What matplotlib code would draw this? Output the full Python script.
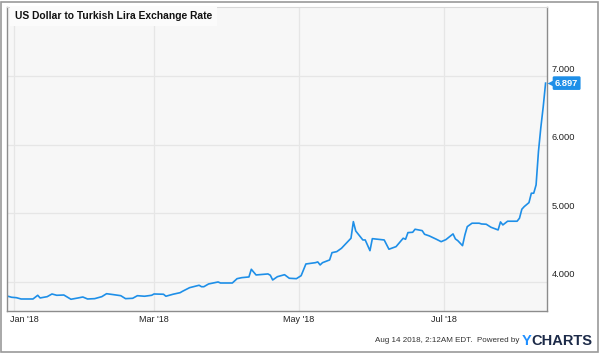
import matplotlib
matplotlib.use("Agg")
import matplotlib.pyplot as plt
from matplotlib.patches import Rectangle
from matplotlib.transforms import ScaledTranslation
import pandas as pd

plt.rcParams['font.family'] = ['Liberation Sans', 'DejaVu Sans']

# USD/TRY readings
dates = ["2017-12-29", "2017-12-31", "2018-01-02", "2018-01-04", "2018-01-09", "2018-01-11",
         "2018-01-12", "2018-01-15", "2018-01-17", "2018-01-19", "2018-01-22", "2018-01-25",
         "2018-01-28", "2018-01-30", "2018-02-01", "2018-02-04", "2018-02-07", "2018-02-09",
         "2018-02-12", "2018-02-15", "2018-02-17", "2018-02-20", "2018-02-22", "2018-02-25",
         "2018-02-28", "2018-03-01", "2018-03-05", "2018-03-06", "2018-03-09", "2018-03-12",
         "2018-03-13", "2018-03-16", "2018-03-20", "2018-03-21", "2018-03-22", "2018-03-24",
         "2018-03-28", "2018-03-29", "2018-04-03", "2018-04-05", "2018-04-07", "2018-04-10",
         "2018-04-11", "2018-04-13", "2018-04-18", "2018-04-19", "2018-04-20", "2018-04-22",
         "2018-04-25", "2018-04-27", "2018-04-30", "2018-05-02", "2018-05-04", "2018-05-08",
         "2018-05-09", "2018-05-10", "2018-05-11", "2018-05-14", "2018-05-15", "2018-05-17",
         "2018-05-19", "2018-05-23", "2018-05-24", "2018-05-25", "2018-05-28", "2018-05-29",
         "2018-05-31", "2018-06-01", "2018-06-06", "2018-06-08", "2018-06-11", "2018-06-14",
         "2018-06-15", "2018-06-16", "2018-06-18", "2018-06-19", "2018-06-22", "2018-06-23",
         "2018-06-25", "2018-06-28", "2018-06-30", "2018-07-02", "2018-07-05", "2018-07-06",
         "2018-07-07", "2018-07-09", "2018-07-10", "2018-07-11", "2018-07-13", "2018-07-16",
         "2018-07-17", "2018-07-19", "2018-07-21", "2018-07-24", "2018-07-25", "2018-07-26",
         "2018-07-28", "2018-08-01", "2018-08-02", "2018-08-03", "2018-08-04", "2018-08-06",
         "2018-08-07", "2018-08-08", "2018-08-09", "2018-08-10", "2018-08-11", "2018-08-12",
         "2018-08-13"]
rates = [3.796, 3.777, 3.771, 3.752, 3.752, 3.806,
         3.767, 3.786, 3.825, 3.806, 3.810, 3.748,
         3.767, 3.781, 3.752, 3.757, 3.786, 3.829,
         3.815, 3.800, 3.757, 3.762, 3.800, 3.792,
         3.806, 3.825, 3.821, 3.792, 3.821, 3.844,
         3.864, 3.917, 3.952, 3.931, 3.931, 3.971,
         4.000, 3.985, 3.985, 4.048, 4.063, 4.073,
         4.185, 4.102, 4.117, 4.098, 4.029, 4.077,
         4.106, 4.054, 4.048, 4.092, 4.262, 4.281,
         4.292, 4.248, 4.281, 4.321, 4.427, 4.442,
         4.491, 4.637, 4.879, 4.743, 4.612, 4.612,
         4.456, 4.631, 4.612, 4.477, 4.515, 4.637,
         4.622, 4.719, 4.724, 4.768, 4.748, 4.695,
         4.671, 4.622, 4.587, 4.617, 4.700, 4.627,
         4.602, 4.529, 4.685, 4.806, 4.856, 4.856,
         4.845, 4.841, 4.797, 4.758, 4.875, 4.831,
         4.885, 4.885, 4.929, 5.060, 5.098, 5.156,
         5.293, 5.293, 5.414, 5.900, 6.250, 6.550,
         6.897]

yticks = [4, 5, 6, 7]
xticks = ["2018-01-01", "2018-03-01", "2018-05-01", "2018-07-01"]
xlabels = ["Jan '18", "Mar '18", "May '18", "Jul '18"]

title = "US Dollar to Turkish Lira Exchange Rate"
footer = "Aug 14 2018, 2:12AM EDT.  Powered by"

line_color = "#1e8fe8"
grid_color = "#e6e6e6"

dts = pd.to_datetime(dates)
fig = plt.figure(figsize=(6, 3.53), dpi=100)
ax = fig.add_axes([7 / 600, 42 / 353, 540 / 600, 304 / 353])
ax.set_facecolor("#f7f7f7")

ax.plot(dts, rates, color=line_color, lw=1.2, solid_joinstyle='round')

start = pd.Timestamp("2018-01-01")
ax.set_xlim(start - pd.Timedelta(days=2.95), start + pd.Timedelta(days=224.6))
ax.set_ylim(3.577, 8.006)

ax.set_yticks(yticks)
ax.set_xticks(pd.to_datetime(xticks))
ax.tick_params(length=0, labelleft=False, labelbottom=False)
ax.grid(True, color=grid_color, lw=0.9)
ax.set_axisbelow(True)

for side in ['left', 'bottom', 'right']:
    ax.spines[side].set_color("#8c8c8c")
    ax.spines[side].set_linewidth(1.0)
ax.spines['top'].set_color("#d8d8d8")

# y labels sit just above the grid lines, right of the axis
for v in yticks:
    ax.annotate(f"{v:.3f}", xy=(1, v), xycoords=('axes fraction', 'data'),
                xytext=(5, 7), textcoords='offset pixels', va='center', ha='left',
                fontsize=6.7, color="#222222")

for i, (d, lab) in enumerate(zip(pd.to_datetime(xticks), xlabels)):
    if i == 0:
        ax.annotate(lab, xy=(d, 0), xycoords=('data', 'axes fraction'),
                    xytext=(-4, -8), textcoords='offset pixels', va='center', ha='left',
                    fontsize=6.5, color="#222222")
    else:
        ax.annotate(lab, xy=(d, 0), xycoords=('data', 'axes fraction'),
                    xytext=(0, -8), textcoords='offset pixels', va='center', ha='center',
                    fontsize=6.5, color="#222222")

# title box in the top left corner
ax.text(8 / 540, 1 - 9 / 304, title, transform=ax.transAxes, fontsize=7.4,
        fontweight='bold', color="#111111", va='center', ha='left',
        bbox=dict(boxstyle='square,pad=0.5', fc='#fbfbfb', ec='none'))

# last value tag, pointer sits just right of the axis line
last_v = rates[-1]
tip = ax.get_yaxis_transform() + ScaledTranslation(4 / 100, 0, fig.dpi_scale_trans)
ax.plot([1.0], [last_v], marker='<', ms=6, color=line_color, mec='none',
        transform=tip, clip_on=False, zorder=5)
ax.annotate(f"{last_v:.3f}", xy=(1, last_v), xycoords=('axes fraction', 'data'),
            xytext=(8, 0), textcoords='offset pixels', va='center', ha='left',
            fontsize=6.7, fontweight='bold', color='white', zorder=6,
            bbox=dict(boxstyle='round,pad=0.25,rounding_size=0.15', fc=line_color, ec='none'))

# footer
fig.text(519 / 600, 1 - 341 / 353, footer, fontsize=5.8, color="#333333", ha='right', va='center')
fig.text(522 / 600, 1 - 341 / 353, "Y", fontsize=10.5, fontweight='bold', color="#1f8fff",
         ha='left', va='center')
fig.text(531 / 600, 1 - 341 / 353, "CHARTS", fontsize=10.5, fontweight='bold', color="#1c2a48",
         ha='left', va='center')

# outer frame
fig.patches.append(Rectangle((1 / 600, 1 / 353), 597 / 600, 350 / 353, transform=fig.transFigure,
                             fill=False, ec="#9a9a9a", lw=1.2))

fig.savefig("out.png", dpi=100)
